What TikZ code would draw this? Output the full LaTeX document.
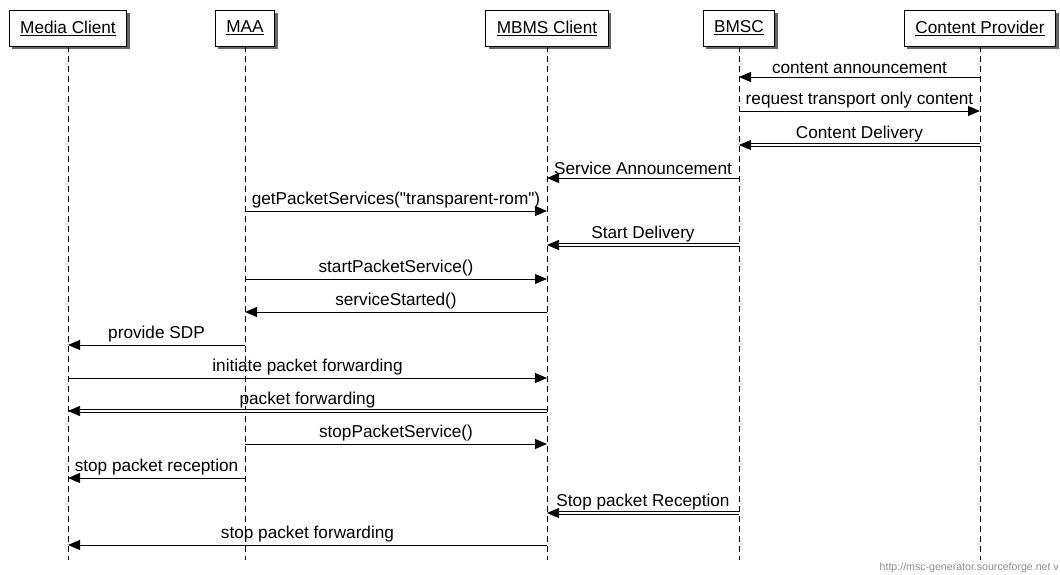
\documentclass[tikz,border=0pt]{standalone}
\usepackage{fontspec}
\newfontfamily\arialfont{Liberation Sans}
\usetikzlibrary{arrows.meta,shadows}
\begin{document}
\begin{tikzpicture}[x=1pt,y=-1pt,
  ent/.style={draw, fill=white, line width=0.8pt, minimum height=36pt, inner xsep=11pt,
    font=\arialfont\fontsize{17.2}{19}\selectfont,
    drop shadow={shadow xshift=3pt, shadow yshift=-3pt, fill=black!75, opacity=0.8}},
  life/.style={line width=0.8pt, dash pattern=on 6pt off 4pt},
  msg/.style={line width=0.9pt, -{Triangle[length=12pt,width=10pt]}},
  dmsg/.style={double, double distance=2pt, line width=0.7pt, -{Triangle[length=12pt,width=10pt]}},
  lbl/.style={font=\arialfont\fontsize{17.2}{19}\selectfont, inner sep=0pt, above=2.5pt}
]
\useasboundingbox (0,0) rectangle (1060,574);

% entities
\node[ent] (mc)   at (68,28)  {\underline{Media Client}};
\node[ent] (maa)  at (245,28) {\underline{MAA}};
\node[ent] (mbms) at (547,28) {\underline{MBMS Client}};
\node[ent] (bmsc) at (739,28) {\underline{BMSC}};
\node[ent] (cp)   at (980,28) {\underline{Content Provider}};

% lifelines
\coordinate (mcE)   at (68,560);
\coordinate (maaE)  at (245,560);
\coordinate (mbmsE) at (547,560);
\coordinate (bmscE) at (739,560);
\coordinate (cpE)   at (980,560);
\draw[life] (mc.south) -- (mcE);
\draw[life] (maa.south) -- (maaE);
\draw[life] (mbms.south) -- (mbmsE);
\draw[life] (bmsc.south) -- (bmscE);
\draw[life] (cp.south) -- (cpE);

% messages
\draw[msg]  (cp |- 0,77)   -- node[lbl] {content announcement} (bmsc |- 0,77);
\draw[msg]  (bmsc |- 0,111) -- node[lbl] {request transport only content} (cp |- 0,111);
\draw[dmsg] (cp |- 0,145)  -- node[lbl] {Content Delivery} (bmsc |- 0,145);
\draw[msg]  (bmsc |- 0,178) -- node[lbl] {Service Announcement} (mbms |- 0,178);
\draw[msg]  (maa |- 0,211) -- node[lbl] {getPacketServices("transparent-rom")} (mbms |- 0,211);
\draw[dmsg] (bmsc |- 0,245) -- node[lbl] {Start Delivery} (mbms |- 0,245);
\draw[msg]  (maa |- 0,279) -- node[lbl] {startPacketService()} (mbms |- 0,279);
\draw[msg]  (mbms |- 0,312) -- node[lbl] {serviceStarted()} (maa |- 0,312);
\draw[msg]  (maa |- 0,345) -- node[lbl] {provide SDP} (mc |- 0,345);
\draw[msg]  (mc |- 0,378) -- node[lbl] {initiate packet forwarding} (mbms |- 0,378);
\draw[dmsg] (mbms |- 0,411) -- node[lbl] {packet forwarding} (mc |- 0,411);
\draw[msg]  (maa |- 0,444) -- node[lbl] {stopPacketService()} (mbms |- 0,444);
\draw[msg]  (maa |- 0,478) -- node[lbl] {stop packet reception} (mc |- 0,478);
\draw[dmsg] (bmsc |- 0,513) -- node[lbl] {Stop packet Reception} (mbms |- 0,513);
\draw[msg]  (mbms |- 0,545) -- node[lbl] {stop packet forwarding} (mc |- 0,545);

% footer
\node[anchor=south east, text=black!45, font=\arialfont\fontsize{10.6}{11}\selectfont, inner sep=1pt] (footer) at (1060,574) {http://msc-generator.sourceforge.net v};
\end{tikzpicture}
\end{document}
